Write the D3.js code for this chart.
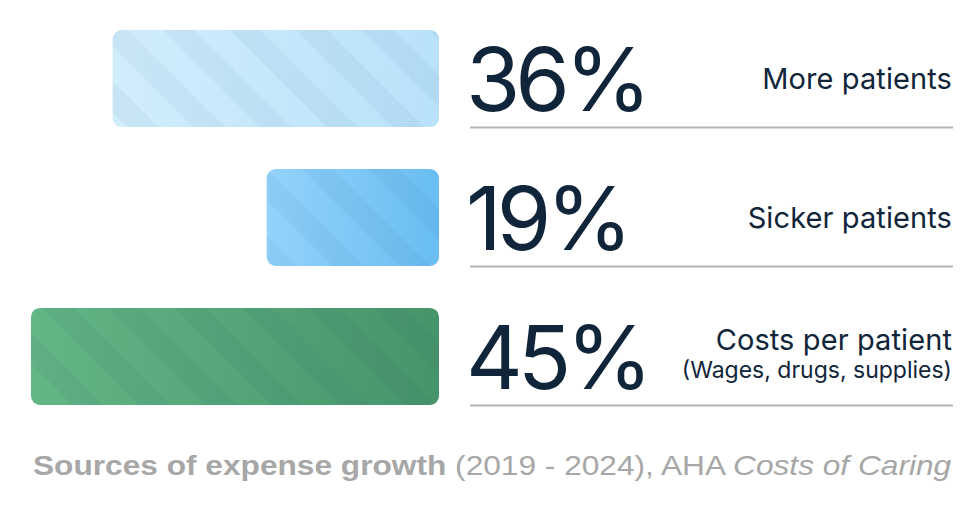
<!DOCTYPE html>
<html>
<head>
<meta charset="utf-8">
<script src="https://cdn.jsdelivr.net/npm/d3@7"></script>
<style>
    html, body { margin: 0; padding: 0; background: #fff; }
    svg { display: block; }
</style>
</head>
<body>
<svg id="chart" width="960" height="527"></svg>
<script>
// data
const categories = ["More patients", "Sicker patients", "Costs per patient"];
const subLabels = ["", "", "(Wages, drugs, supplies)"];
const values = [36, 19, 45];
const valueLabels = ["36%", "19%", "45%"];
const noteBold = "Sources of expense growth";
const noteText = " (2019 - 2024), AHA ";
const noteItalic = "Costs of Caring";

// styles
const barColors = [
    ["#d2edfc", "#b8e2fa"],
    ["#93d3fb", "#69bdf2"],
    ["#63b686", "#46946a"]
];
const ink = "#10253a";
const rule = "#b4b4b4";

const barRight = 439;
const textLeft = 470, textRight = 952;

const svg = d3.select("#chart");
const defs = svg.append("defs");

const x = d3.scaleLinear().domain([0, 45]).range([0, 408]);
const y = d3.scaleBand()
    .domain(categories)
    .range([30, 405])
    .paddingInner(0.302)
    .paddingOuter(0);

// stripes
defs.append("pattern")
    .attr("id", "stripes")
    .attr("patternUnits", "userSpaceOnUse")
    .attr("width", 47)
    .attr("height", 47)
    .attr("patternTransform", "rotate(-45)")
    .append("rect")
    .attr("width", 22)
    .attr("height", 47)
    .attr("fill", "#0a3050")
    .attr("fill-opacity", 0.045);

barColors.forEach(function (c, i) {
    const g = defs.append("linearGradient")
        .attr("id", "grad" + i)
        .attr("x1", 0).attr("x2", 1).attr("y1", 0).attr("y2", 0);
    g.append("stop").attr("offset", "0%").attr("stop-color", c[0]);
    g.append("stop").attr("offset", "100%").attr("stop-color", c[1]);
});

const rows = svg.selectAll("g.row")
    .data(categories)
    .enter()
    .append("g")
    .attr("class", "row");

rows.append("rect")
    .attr("x", (d, i) => barRight - x(values[i]))
    .attr("y", d => y(d))
    .attr("width", (d, i) => x(values[i]))
    .attr("height", y.bandwidth())
    .attr("rx", 9)
    .attr("fill", (d, i) => "url(#grad" + i + ")");

rows.append("rect")
    .attr("x", (d, i) => barRight - x(values[i]))
    .attr("y", d => y(d))
    .attr("width", (d, i) => x(values[i]))
    .attr("height", y.bandwidth())
    .attr("rx", 9)
    .attr("fill", "url(#stripes)");

// rule under each row
rows.append("line")
    .attr("x1", textLeft)
    .attr("x2", textRight + 1)
    .attr("y1", d => y(d) + y.bandwidth() + 0.5)
    .attr("y2", d => y(d) + y.bandwidth() + 0.5)
    .attr("stroke", rule)
    .attr("stroke-width", 2);

// big numbers
rows.append("text")
    .attr("x", textLeft - 4)
    .attr("y", d => y(d) + 81)
    .attr("font-family", "Inter, 'Liberation Sans', sans-serif")
    .attr("font-size", 88)
    .attr("letter-spacing", -5)
    .attr("fill", ink)
    .text((d, i) => valueLabels[i]);

// category labels
rows.append("text")
    .attr("x", textRight)
    .attr("y", (d, i) => y(d) + (subLabels[i] ? 42 : 59))
    .attr("text-anchor", "end")
    .attr("font-family", "Inter, 'Liberation Sans', sans-serif")
    .attr("font-size", 29)
    .attr("letter-spacing", 0.1)
    .attr("fill", ink)
    .text(d => d);

rows.filter((d, i) => subLabels[i])
    .append("text")
    .attr("x", textRight)
    .attr("y", d => y(d) + 70)
    .attr("text-anchor", "end")
    .attr("font-family", "Inter, 'Liberation Sans', sans-serif")
    .attr("font-size", 23)
    .attr("letter-spacing", 0)
    .attr("fill", ink)
    .text(d => subLabels[categories.indexOf(d)]);

// source note
const note = svg.append("text")
    .attr("y", 475)
    .attr("font-family", "'Liberation Sans Narrow', 'Liberation Sans', sans-serif")
    .attr("font-size", 28)
    .attr("fill", "#a7a7a7");
note.append("tspan").attr("font-weight", "bold").text(noteBold);
note.append("tspan").text(noteText);
note.append("tspan").attr("font-style", "italic").text(noteItalic);

const nb = note.node().getBBox();
const sx = (textRight - 33) / nb.width;
note.attr("transform", "translate(33,0) scale(" + sx + ",1) translate(" + (-nb.x) + ",0)");
</script>
</body>
</html>
